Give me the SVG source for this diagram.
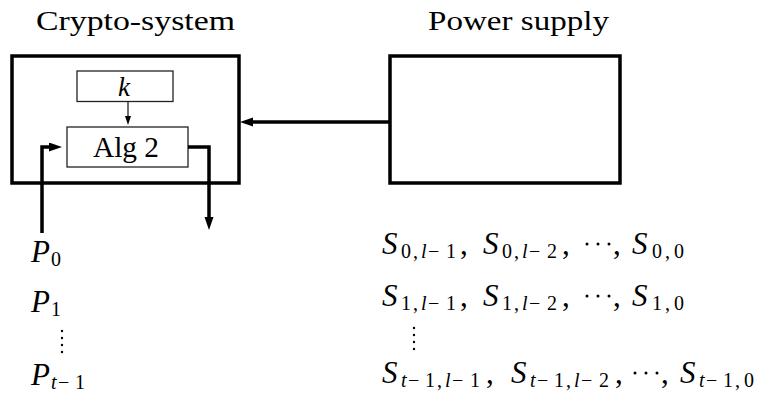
<svg xmlns="http://www.w3.org/2000/svg" width="776" height="393" viewBox="0 0 776 393">
<style>
text{font-family:'Liberation Serif','Times New Roman',serif;fill:#000}
.title{font-size:27px}
.m{font-size:31px}
.i{font-style:italic}
.sub{font-size:20px}
.thick{fill:none;stroke:#000;stroke-width:3.5}
.thin{fill:none;stroke:#222;stroke-width:1.3}
.dot{fill:#000}
</style>
<defs>
<marker id="ab" markerUnits="userSpaceOnUse" markerWidth="14" markerHeight="10" refX="6" refY="4.5" orient="auto">
<path d="M0,0 L13,4.5 L0,9 z" fill="#000"/>
</marker>
<marker id="as" markerUnits="userSpaceOnUse" markerWidth="10" markerHeight="8" refX="5" refY="3" orient="auto">
<path d="M0,0 L9,3 L0,6 z" fill="#000"/>
</marker>
</defs>

<text class="title" x="36" y="30" textLength="199" lengthAdjust="spacingAndGlyphs">Crypto-system</text>
<text class="title" x="428" y="30" textLength="181" lengthAdjust="spacingAndGlyphs">Power supply</text>

<g id="crypto">
<rect class="thick" x="12" y="56" width="227" height="127"/>
</g>
<g id="key">
<rect class="thin" x="77" y="71" width="96" height="30.5"/>
<text class="i" x="118" y="96" style="font-size:27px">k</text>
</g>
<g id="alg">
<rect class="thin" x="67" y="127" width="121" height="40"/>
<text x="93" y="157" style="font-size:29px" textLength="66" lengthAdjust="spacingAndGlyphs">Alg 2</text>
</g>
<g id="power">
<rect class="thick" x="390" y="56" width="230" height="127"/>
</g>

<g id="connectors">
<line class="thin" x1="128" y1="101.5" x2="128" y2="121" stroke-width="1.2" marker-end="url(#as)"/>
<path class="thick" d="M42,233 V147 H55" marker-end="url(#ab)"/>
<path class="thick" d="M188,147 H209 V223" marker-end="url(#ab)"/>
<line class="thick" x1="390" y1="122" x2="247" y2="122" marker-end="url(#ab)"/>
</g>

<g id="plaintexts">
<text class="m" x="31" y="262"><tspan class="i">P</tspan><tspan class="sub" x="51" dy="4">0</tspan></text>
<text class="m" x="31" y="312"><tspan class="i">P</tspan><tspan class="sub" x="51" dy="4">1</tspan></text>
<circle class="dot" cx="62" cy="331" r="1.2"/>
<circle class="dot" cx="62" cy="338" r="1.2"/>
<circle class="dot" cx="62" cy="345" r="1.2"/>
<circle class="dot" cx="62" cy="352" r="1.2"/>
<text class="m" x="31" y="385"><tspan class="i">P</tspan><tspan class="sub i" x="51" dy="4">t</tspan><tspan class="sub" x="58">−</tspan><tspan class="sub" x="75">1</tspan></text>
</g>

<g id="traces">
<!-- row 0 -->
<text class="m" x="382" y="254"><tspan class="i">S</tspan><tspan class="sub" x="401" dy="4">0</tspan><tspan class="sub" x="413">,</tspan><tspan class="sub i" x="421">l</tspan><tspan class="sub" x="428">−</tspan><tspan class="sub" x="446">1</tspan><tspan x="460" dy="-4">,</tspan></text>
<text class="m" x="483" y="254"><tspan class="i">S</tspan><tspan class="sub" x="502" dy="4">0</tspan><tspan class="sub" x="514">,</tspan><tspan class="sub i" x="522">l</tspan><tspan class="sub" x="529">−</tspan><tspan class="sub" x="547">2</tspan><tspan x="562" dy="-4">,</tspan></text>
<circle class="dot" cx="587" cy="244" r="1.5"/><circle class="dot" cx="598" cy="244" r="1.5"/><circle class="dot" cx="609" cy="244" r="1.5"/>
<text class="m" x="613" y="254">,</text>
<text class="m" x="632" y="254"><tspan class="i">S</tspan><tspan class="sub" x="652" dy="4">0</tspan><tspan class="sub" x="665">,</tspan><tspan class="sub" x="674">0</tspan></text>
<!-- row 1 -->
<text class="m" x="382" y="306"><tspan class="i">S</tspan><tspan class="sub" x="401" dy="4">1</tspan><tspan class="sub" x="413">,</tspan><tspan class="sub i" x="421">l</tspan><tspan class="sub" x="428">−</tspan><tspan class="sub" x="446">1</tspan><tspan x="460" dy="-4">,</tspan></text>
<text class="m" x="483" y="306"><tspan class="i">S</tspan><tspan class="sub" x="502" dy="4">1</tspan><tspan class="sub" x="514">,</tspan><tspan class="sub i" x="522">l</tspan><tspan class="sub" x="529">−</tspan><tspan class="sub" x="547">2</tspan><tspan x="562" dy="-4">,</tspan></text>
<circle class="dot" cx="587" cy="296" r="1.5"/><circle class="dot" cx="598" cy="296" r="1.5"/><circle class="dot" cx="609" cy="296" r="1.5"/>
<text class="m" x="613" y="306">,</text>
<text class="m" x="632" y="306"><tspan class="i">S</tspan><tspan class="sub" x="652" dy="4">1</tspan><tspan class="sub" x="665">,</tspan><tspan class="sub" x="674">0</tspan></text>
<circle class="dot" cx="414" cy="328" r="1.2"/>
<circle class="dot" cx="414" cy="335" r="1.2"/>
<circle class="dot" cx="414" cy="342" r="1.2"/>
<circle class="dot" cx="414" cy="349" r="1.2"/>
<!-- row t-1 -->
<text class="m" x="382" y="383"><tspan class="i">S</tspan><tspan class="sub i" x="401" dy="4">t</tspan><tspan class="sub" x="408">−</tspan><tspan class="sub" x="425">1</tspan><tspan class="sub" x="437">,</tspan><tspan class="sub i" x="445">l</tspan><tspan class="sub" x="452">−</tspan><tspan class="sub" x="470">1</tspan><tspan x="486" dy="-4">,</tspan></text>
<text class="m" x="511" y="383"><tspan class="i">S</tspan><tspan class="sub i" x="530" dy="4">t</tspan><tspan class="sub" x="537">−</tspan><tspan class="sub" x="554">1</tspan><tspan class="sub" x="566">,</tspan><tspan class="sub i" x="574">l</tspan><tspan class="sub" x="581">−</tspan><tspan class="sub" x="599">2</tspan><tspan x="615" dy="-4">,</tspan></text>
<circle class="dot" cx="635" cy="373" r="1.5"/><circle class="dot" cx="646" cy="373" r="1.5"/><circle class="dot" cx="657" cy="373" r="1.5"/>
<text class="m" x="661" y="383">,</text>
<text class="m" x="680" y="383"><tspan class="i">S</tspan><tspan class="sub i" x="699" dy="4">t</tspan><tspan class="sub" x="706">−</tspan><tspan class="sub" x="723">1</tspan><tspan class="sub" x="735">,</tspan><tspan class="sub" x="744">0</tspan></text>
</g>
</svg>
